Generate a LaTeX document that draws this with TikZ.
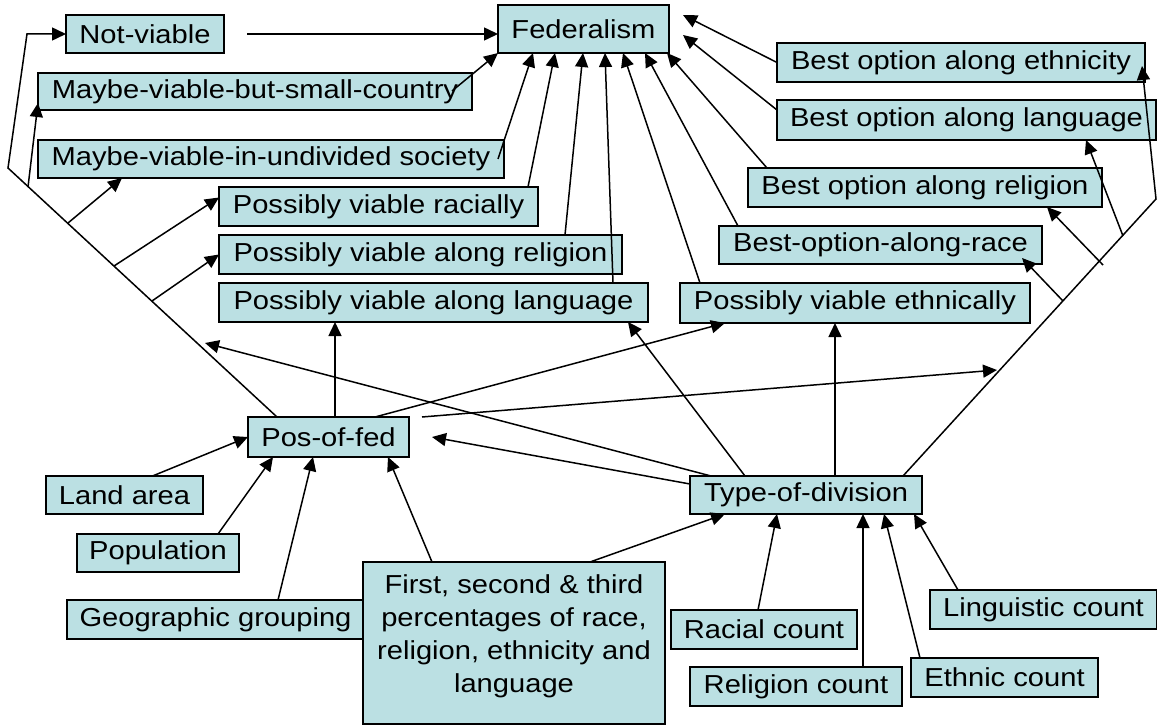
\documentclass[tikz,border=0pt]{standalone}
\usepackage{fontspec}
\setmainfont{Liberation Sans}[FakeStretch=1.12]
\usetikzlibrary{arrows.meta}
\definecolor{boxfill}{RGB}{187,224,227}

\begin{document}
\begin{tikzpicture}[x=1pt,y=-1pt,>={Triangle[length=14pt,width=13pt]},line width=1.5pt,
	box/.style={draw=black,fill=boxfill,anchor=north west,inner sep=0pt,outer sep=0pt,font=\fontsize{26}{33}\selectfont}]
	\useasboundingbox (0,0) rectangle (1157,725);

	\node [box,minimum width=171pt,minimum height=48pt] at (498,5) (fed) {Federalism};
	\node [box,minimum width=158pt,minimum height=38pt] at (66,15) (not_viable) {Not-viable};
	\node [box,minimum width=434pt,minimum height=37pt] at (38,73) (small_country) {Maybe-viable-but-small-country};
	\node [box,minimum width=466pt,minimum height=38pt] at (38,140) (undivided) {Maybe-viable-in-undivided society};
	\node [box,minimum width=319pt,minimum height=39pt] at (219,187) (racially) {Possibly viable racially};
	\node [box,minimum width=403pt,minimum height=39pt] at (219,235) (along_religion) {Possibly viable along religion};
	\node [box,minimum width=429pt,minimum height=39pt] at (219,283) (along_language) {Possibly viable along language};
	\node [box,minimum width=350pt,minimum height=40pt] at (680,283) (ethnically) {Possibly viable ethnically};

	\node [box,minimum width=368pt,minimum height=39pt] at (777,43) (best_eth) {Best option along ethnicity};
	\node [box,minimum width=379pt,minimum height=40pt] at (777,100) (best_lang) {Best option along language};
	\node [box,minimum width=354pt,minimum height=39pt] at (748,168) (best_rel) {Best option along religion};
	\node [box,minimum width=323pt,minimum height=38pt] at (719,226) (best_race) {Best-option-along-race};

	\node [box,minimum width=161pt,minimum height=40pt] at (248,417) (pos_fed) {Pos-of-fed};
	\node [box,minimum width=232pt,minimum height=38pt] at (690,476) (type_div) {Type-of-division};

	\node [box,minimum width=157pt,minimum height=38pt] at (46,476) (land) {Land area};
	\node [box,minimum width=162pt,minimum height=38pt] at (77,534) (population) {Population};
	\node [box,minimum width=297pt,minimum height=39pt] at (67,600) (geo) {Geographic grouping};
	\node [box,minimum width=302pt,minimum height=162pt,align=center] at (363,562) (first) {First, second \& third\\percentages of race,\\religion, ethnicity and\\language\\[-15pt]\mbox{}};

	\node [box,minimum width=186pt,minimum height=39pt] at (671,610) (racial) {Racial count};
	\node [box,minimum width=212pt,minimum height=39pt] at (690,667) (religion_count) {Religion count};
	\node [box,minimum width=187pt,minimum height=39pt] at (911,658) (ethnic) {Ethnic count};
	\node [box,minimum width=227pt,minimum height=39pt] at (930,590) (linguistic) {Linguistic count};

	\draw [->] ([shift={(23,0)}]not_viable.east) -- (fed.west |- not_viable.east);
	\draw [->] ([shift={(-20,18)}]small_country.north east) -- (fed.south west);
	\draw [->] ([shift={(-6,0)}]undivided.east) -- ([shift={(35,0)}]fed.south west);
	\draw [->] ([shift={(-10,0)}]racially.north east) -- ([shift={(57,0)}]fed.south west);
	\draw [->] ([shift={(-57,0)}]along_religion.north east) -- ([shift={(85,0)}]fed.south west);
	\draw [->] ([shift={(-35,0)}]along_language.north east) -- ([shift={(107,0)}]fed.south west);
	\draw [->] ([shift={(20,0)}]ethnically.north west) -- ([shift={(125,0)}]fed.south west);
	\draw [->] ([shift={(19,0)}]best_race.north west) -- ([shift={(-24,0)}]fed.south east);
	\draw [->] ([shift={(19,0)}]best_rel.north west) -- ([shift={(-2,0)}]fed.south east);
	\draw [->] ([shift={(0,-10)}]best_lang.west) -- ([shift={(14,6)}]fed.east);
	\draw [->] (best_eth.west) -- ([shift={(14,10)}]fed.north east);

	\coordinate (bend_a) at (8,168);
	\coordinate (bend_b) at (27,34);
	\coordinate (pf_a) at (28,187);
	\coordinate (pf_b) at (68,223);
	\coordinate (pf_c) at (114,266);
	\coordinate (pf_d) at (152,301);
	\draw [->] ([shift={(29,0)}]pos_fed.north west) -- (bend_a) -- (bend_b) -- (not_viable.west);
	\draw [->] (pf_a) -- ([shift={(0,-7)}]small_country.south west);
	\draw [->] (pf_b) -- ([shift={(84,0)}]undivided.south west);
	\draw [->] (pf_c) -- ([shift={(0,-9)}]racially.west);
	\draw [->] (pf_d) -- (along_religion.west);

	\coordinate (free_a) at (997,370);
	\coordinate (free_b) at (205,343);
	\draw [->] ([shift={(87,0)}]pos_fed.north west) -- ([shift={(116,0)}]along_language.south west);
	\draw [->] ([shift={(-34,0)}]pos_fed.north east) -- ([shift={(45,0)}]ethnically.south west);
	\draw [->] ([shift={(13,0)}]pos_fed.north east) -- (free_a);
	\draw [->] ([shift={(0,8)}]type_div.north west) -- ([shift={(23,0)}]pos_fed.east);
	\draw [->] ([shift={(21,0)}]type_div.north west) -- (free_b);
	\draw [->] ([shift={(55,0)}]type_div.north west) -- ([shift={(-20,0)}]along_language.south east);
	\draw [->] ([shift={(145,0)}]type_div.north west) -- ([shift={(155,0)}]ethnically.south west);

	\coordinate (bend_c) at (1156,199);
	\coordinate (td_a) at (1063,301);
	\coordinate (td_b) at (1103,265);
	\coordinate (td_c) at (1123,236);
	\draw [->] ([shift={(-19,0)}]type_div.north east) -- (bend_c) -- ([shift={(-3,-16)}]best_eth.south east);
	\draw [->] (td_a) -- ([shift={(-20,-6)}]best_race.south east);
	\draw [->] (td_b) -- ([shift={(-55,0)}]best_rel.south east);
	\draw [->] (td_c) -- ([shift={(-70,0)}]best_lang.south east);

	\draw [->] ([shift={(28,0)}]land.north) -- (pos_fed.west);
	\draw [->] ([shift={(-21,0)}]population.north east) -- ([shift={(25,0)}]pos_fed.south west);
	\draw [->] ([shift={(211,0)}]geo.north west) -- ([shift={(65,0)}]pos_fed.south west);
	\draw [->] ([shift={(69,0)}]first.north west) -- ([shift={(-21,0)}]pos_fed.south east);
	\draw [->] ([shift={(-75,0)}]first.north east) -- ([shift={(35,0)}]type_div.south west);
	\draw [->] ([shift={(87,0)}]racial.north west) -- ([shift={(87,0)}]type_div.south west);
	\draw [->] ([shift={(173,0)}]religion_count.north west) -- ([shift={(173,0)}]type_div.south west);
	\draw [->] ([shift={(9,0)}]ethnic.north west) -- ([shift={(-38,0)}]type_div.south east);
	\draw [->] ([shift={(28,0)}]linguistic.north west) -- ([shift={(-8,0)}]type_div.south east);
\end{tikzpicture}
\end{document}
